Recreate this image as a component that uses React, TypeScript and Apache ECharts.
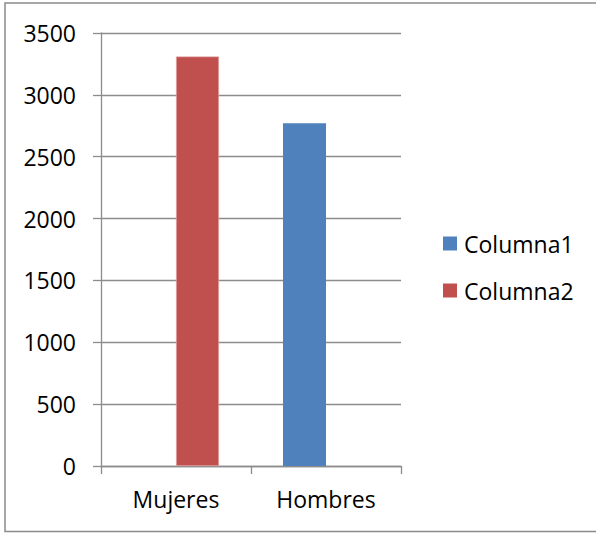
import React, { useEffect, useRef } from "react";
import * as echarts from "echarts";

const categories = ["Mujeres", "Hombres"];
const seriesNames = ["Columna1", "Columna2"];
const columna1: (number | string)[] = ["-", 2770];
const columna2: (number | string)[] = [3310, "-"];

const FONT = "Open Sans";
const GRID = "#8c8c8c";

export default function App() {
  const ref = useRef<HTMLDivElement>(null);
  useEffect(() => {
    if (!ref.current) return;
    const chart = echarts.init(ref.current, null, { renderer: "svg" });
    chart.setOption({
      animation: false,
      backgroundColor: "#ffffff",
      textStyle: { fontFamily: FONT },
      graphic: [
        {
          type: "rect",
          shape: { x: 5, y: 3, width: 620, height: 528.5 },
          style: { fill: "none", stroke: "#8a8a8a", lineWidth: 1.5 },
          silent: true,
        },
      ],
      grid: { left: 101, right: 195, top: 33, bottom: 67, containLabel: false },
      legend: {
        orient: "vertical",
        left: 438,
        top: 227,
        itemWidth: 14,
        itemHeight: 14,
        itemGap: 24,
        icon: "rect",
        data: seriesNames,
        itemStyle: { borderWidth: 0 },
        textStyle: { fontFamily: FONT, fontSize: 23, color: "#000", padding: [0, 0, 0, 2] },
      },
      xAxis: {
        type: "category",
        data: categories,
        axisLine: { lineStyle: { color: GRID, width: 1.3 } },
        axisTick: { show: true, length: 8, lineStyle: { color: GRID, width: 1.3 } },
        axisLabel: { fontFamily: FONT, fontSize: 23, color: "#000", margin: 21 },
      },
      yAxis: {
        type: "value",
        min: 0,
        max: 3500,
        interval: 500,
        axisLine: { show: true, lineStyle: { color: GRID, width: 1.3 } },
        axisTick: { show: true, length: 8, lineStyle: { color: GRID, width: 1.3 } },
        splitLine: { lineStyle: { color: GRID, width: 1.3 } },
        axisLabel: {
          fontFamily: FONT,
          fontSize: 23,
          color: "#000",
          margin: 25,
          formatter: (v: number) => String(v),
        },
      },
      series: [
        {
          name: seriesNames[0],
          type: "bar",
          data: columna1,
          barWidth: 43,
          barGap: "0%",
          itemStyle: { color: "#4F81BD" },
        },
        {
          name: seriesNames[1],
          type: "bar",
          data: columna2,
          barWidth: 43,
          barGap: "0%",
          itemStyle: { color: "#C0504D", borderColor: "#e8b4b3", borderWidth: 0.6 },
        },
      ],
    });
    return () => chart.dispose();
  }, []);
  return (
    <div
      ref={ref}
      style={{ position: "fixed", left: 0, top: 0, width: 596, height: 533, background: "#fff" }}
    />
  );
}
